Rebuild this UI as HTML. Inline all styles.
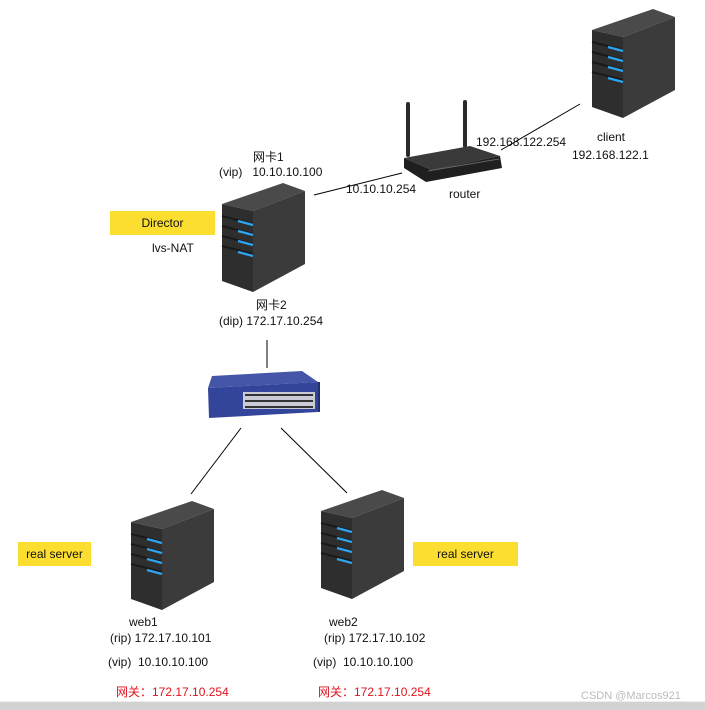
<!DOCTYPE html>
<html><head><meta charset="utf-8"><style>
body{margin:0;width:705px;height:710px;background:#fff;overflow:hidden;position:relative;font-family:"Liberation Sans","Noto Sans CJK SC",sans-serif;font-size:12px;color:#111}
.t{position:absolute;white-space:nowrap}
.y{position:absolute;background:#fbde2f;text-align:center;font-size:12px}
.r{color:#e0141e}
</style></head><body>
<svg width="705" height="710" style="position:absolute;left:0;top:0">
<defs>
<g id="srv">
<polygon points="0,21 61,0 83,8 31,28" fill="#4a4a4a"/>
<polygon points="31,28 83,8 83,81 31,109" fill="#3b3b3b"/>
<polygon points="0,21 31,28 31,109 0,98" fill="#2e2e2e"/>
<g stroke="#1a1a1a" stroke-width="2">
<line x1="0" y1="33" x2="31" y2="41"/><line x1="0" y1="43" x2="31" y2="51"/>
<line x1="0" y1="53" x2="31" y2="61"/><line x1="0" y1="63" x2="31" y2="71"/></g>
<g stroke="#2ea3f0" stroke-width="2.2">
<line x1="16" y1="38" x2="31" y2="42"/><line x1="16" y1="48" x2="31" y2="52"/>
<line x1="16" y1="58" x2="31" y2="62"/><line x1="16" y1="69" x2="31" y2="73"/></g>
</g>
</defs>
<use href="#srv" x="592" y="9"/>
<use href="#srv" x="222" y="183"/>
<use href="#srv" x="131" y="501"/>
<use href="#srv" x="321" y="490"/>
<g stroke="#000" stroke-width="1">
<line x1="314" y1="195" x2="402" y2="173"/>
<line x1="501" y1="150" x2="580" y2="104"/>
<line x1="267" y1="340" x2="267" y2="368"/>
<line x1="241" y1="428" x2="191" y2="494"/>
<line x1="281" y1="428" x2="347" y2="493"/>
</g>
<g>
<rect x="406" y="102" width="4" height="55" rx="2" fill="#2a2a2a"/>
<rect x="463" y="100" width="4" height="48" rx="2" fill="#2a2a2a"/>
<polygon points="404,158 470,146 500,156 432,170" fill="#3a3a3a"/>
<polygon points="404,158 432,170 500,156 502,168 426,182 404,168" fill="#1f1f1f"/>
<line x1="428" y1="171" x2="499" y2="159" stroke="#666" stroke-width="1"/>
</g>
<g>
<polygon points="212,376 302,371 318,382 208,388" fill="#4556a8"/>
<polygon points="208,388 318,382 318,412 209,418" fill="#33459a"/>
<polygon points="318,382 320,382 320,412 318,412" fill="#22306e"/>
<rect x="243" y="392" width="72" height="17" fill="#c9ccd6"/>
<g fill="#333"><rect x="245" y="394" width="68" height="2"/><rect x="245" y="400" width="68" height="2"/><rect x="245" y="406" width="68" height="2"/></g>
</g>
<rect x="0" y="702" width="705" height="8" fill="#d2d2d2"/>
<line x1="0" y1="701.5" x2="705" y2="701.5" stroke="#eee"/>
</svg>
<div class="t" style="left:253px;top:148px">网卡1</div>
<div class="t" style="left:219px;top:165px">(vip)&nbsp;&nbsp; 10.10.10.100</div>
<div class="y" style="left:110px;top:211px;width:105px;height:24px;line-height:24px">Director</div>
<div class="t" style="left:152px;top:241px">lvs-NAT</div>
<div class="t" style="left:256px;top:296px">网卡2</div>
<div class="t" style="left:219px;top:314px">(dip) 172.17.10.254</div>
<div class="t" style="left:346px;top:182px">10.10.10.254</div>
<div class="t" style="left:476px;top:135px">192.168.122.254</div>
<div class="t" style="left:449px;top:187px">router</div>
<div class="t" style="left:597px;top:130px">client</div>
<div class="t" style="left:572px;top:148px">192.168.122.1</div>
<div class="y" style="left:18px;top:542px;width:73px;height:24px;line-height:24px">real server</div>
<div class="y" style="left:413px;top:542px;width:105px;height:24px;line-height:24px">real server</div>
<div class="t" style="left:129px;top:615px">web1</div>
<div class="t" style="left:110px;top:631px">(rip) 172.17.10.101</div>
<div class="t" style="left:108px;top:655px">(vip)&nbsp; 10.10.10.100</div>
<div class="t r" style="left:116px;top:683px">网关：172.17.10.254</div>
<div class="t" style="left:329px;top:615px">web2</div>
<div class="t" style="left:324px;top:631px">(rip) 172.17.10.102</div>
<div class="t" style="left:313px;top:655px">(vip)&nbsp; 10.10.10.100</div>
<div class="t r" style="left:318px;top:683px">网关：172.17.10.254</div>
<div class="t" style="left:581px;top:690px;color:#bbb;font-size:11px">CSDN @Marcos921</div>
</body></html>
